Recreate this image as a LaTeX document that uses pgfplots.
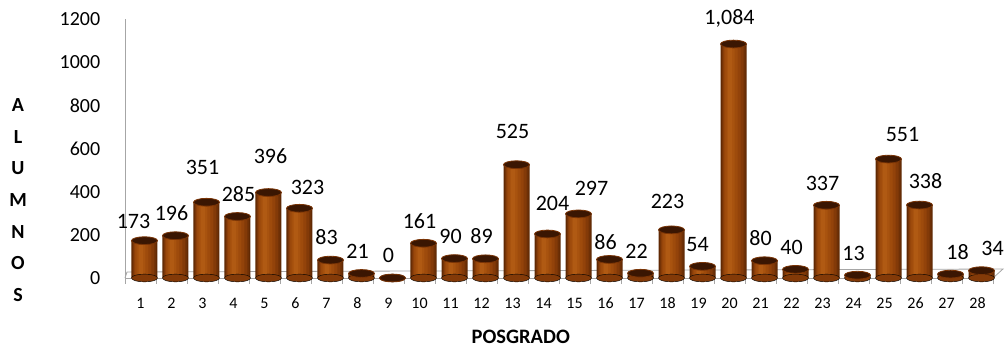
\documentclass[border=0pt]{standalone}
\usepackage{fontspec}
\setmainfont{Carlito}
\usepackage{pgfplots}
\usepackage{pgfplotstable}
\pgfplotsset{compat=1.18}
\definecolor{c1}{HTML}{5A2602}
\definecolor{c2}{HTML}{6E3006}
\definecolor{c3}{HTML}{833A08}
\definecolor{c4}{HTML}{93430A}
\definecolor{c5}{HTML}{9E4B0C}
\definecolor{c6}{HTML}{A8530F}
\definecolor{c7}{HTML}{B05A13}
\definecolor{btop}{HTML}{3A1602}
\definecolor{brim}{HTML}{7A3406}
\definecolor{axgray}{HTML}{A6A6A6}
\pgfplotstableread{
x y b dx dy
1 173 0 -7 -3
2 196 0 0 0
3 351 0 0 13
4 285 0 5 0
5 396 0 6 13.5
6 323 0 12 -1
7 83 0 0 0
8 21 0 0 0
9 0 0 0 0
10 161 0 0 0
11 90 0 0 0
12 89 0 0 0
13 525 0 0 11
14 204 0 9 8
15 297 0 17 3.5
16 86 0 0 -5
17 22 0 0 0
18 223 0 0 6
19 54 0 -1 0
20 1084 0 0 2
21 80 0 0 0
22 40 0 0 0
23 337 0 0 0
24 13 0 0 0
25 551 0 18 2
26 338 0 10 1
27 18 0 11 -1
28 34 0 15 0
}\datatable
\newcommand\barlayer[3]{\addplot[ybar, bar width=#1, bar shift=#2, fill=#3, draw=none] table[x=x, y=y]{\datatable};}
\begin{document}
\begin{tikzpicture}
\useasboundingbox (-125pt,-70pt) rectangle (880pt,278pt);
\begin{axis}[
  at={(0pt,0pt)}, anchor=south west,
  scale only axis, width=868pt, height=259pt,
  xmin=0.5, xmax=28.5, ymin=0, ymax=1200,
  clip=false,
  axis x line*=bottom, axis y line*=left,
  axis line style={draw=axgray, line width=0.8pt},
  ytick={0,200,...,1200},
  ytick style={draw=none},
  xtick={1,...,28},
  xtick style={draw=none},
  minor xtick={0.5,1.5,...,28.5},
  minor x tick style={draw=axgray, line width=0.8pt},
  minor tick length=6pt,
  tick align=outside,
  /pgf/number format/assume math mode=true,
  yticklabel style={font=\fontsize{20}{24}\selectfont, xshift=-17pt, /pgf/number format/1000 sep={}},
  xticklabel style={font=\fontsize{16}{19}\selectfont, yshift=-12pt},
  xlabel={POSGRADO},
  xlabel style={font=\bfseries\fontsize{20.5}{24}\selectfont, at={(axis description cs:0.456,0)}, anchor=center, yshift=-59pt},
]
% floor outline
\draw[axgray, line width=0.8pt] (axis cs:0.5,0) -- ([shift={(2pt,6pt)}]axis cs:0.5,0) -- ([shift={(10pt,9pt)}]axis cs:28.5,0) -- (axis cs:28.5,0);
% bottom ellipses
\addplot[only marks, mark=*, mark size=13pt, mark options={xshift=4pt, yscale=0.3, fill=c3, draw=none}] table[x=x, y=b]{\datatable};
% bars, drawn as layers for a cylinder shading
\barlayer{26pt}{4pt}{c1}
\barlayer{24pt}{4pt}{c2}
\barlayer{21pt}{3.5pt}{c3}
\barlayer{17pt}{2.5pt}{c4}
\barlayer{13pt}{1.5pt}{c5}
\barlayer{8pt}{1pt}{c6}
\barlayer{4pt}{0.5pt}{c7}
% top ellipses
\addplot[only marks, mark=*, mark size=13pt, mark options={xshift=4pt, yscale=0.3, fill=btop, draw=brim, line width=0.8pt}] table[x=x, y=y]{\datatable};
% value labels
\addplot[draw=none, mark=none,
  visualization depends on={\thisrow{dx} \as \dx},
  visualization depends on={\thisrow{dy} \as \dy},
  nodes near coords, nodes near coords style={font=\fontsize{22}{26}\selectfont, text=black, anchor=south, yshift=11.5pt+\dy pt, xshift=\dx pt}] table[x=x, y=y]{\datatable};
\end{axis}
\node[font=\bfseries\fontsize{20}{31.7}\selectfont, align=center] at (-107pt,78pt) {A\\L\\U\\M\\N\\O\\S};
\end{tikzpicture}
\end{document}
